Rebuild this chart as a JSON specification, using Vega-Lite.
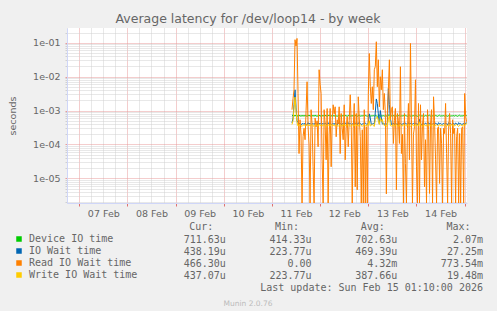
{
"$schema":"https://vega.github.io/schema/vega-lite/v6.json",
"background":"#F0F0F0",
"autosize":{"type":"none"},
"padding":{"left":67,"top":28,"right":430,"bottom":283},
"bounds":"flush",
"spacing":37,
"config":{"view":{"stroke":null},"axis":{"labelFont":"DejaVu Sans","titleFont":"DejaVu Sans","labelColor":"#666666","titleColor":"#666666","titleFontWeight":"normal"},"title":{"font":"DejaVu Sans","fontWeight":"normal","color":"#666666"}},
"vconcat":[
{
"width":400,"height":175,
"view":{"fill":"#FFFFFF","stroke":null},
"title":{"text":"Average latency for /dev/loop14 - by week","fontSize":12.5,"offset":2,"anchor":"middle","dx":-19},
"data":{"values":[
{"t":"2026-02-11T10:00","Device IO time":7.3e-4,"IO Wait time":4.3e-4,"Read IO Wait time":1.06e-3,"Write IO Wait time":3.9e-4},
{"t":"2026-02-11T10:30","Device IO time":7.1e-4,"IO Wait time":6e-4,"Read IO Wait time":2.23e-3,"Write IO Wait time":5e-4},
{"t":"2026-02-11T11:00","Device IO time":6.9e-4,"IO Wait time":1.5e-3,"Read IO Wait time":4.1e-3,"Write IO Wait time":1.2e-3},
{"t":"2026-02-11T11:30","Device IO time":7.2e-4,"IO Wait time":4.1e-3,"Read IO Wait time":0.123,"Write IO Wait time":2.5e-3},
{"t":"2026-02-11T12:00","Device IO time":7.0e-4,"IO Wait time":1.2e-3,"Read IO Wait time":0.08,"Write IO Wait time":1.0e-3},
{"t":"2026-02-11T12:30","Device IO time":6.8e-4,"IO Wait time":5e-4,"Read IO Wait time":0.134,"Write IO Wait time":4.5e-4},
{"t":"2026-02-11T13:00","Device IO time":7.1e-4,"IO Wait time":4.4e-4,"Read IO Wait time":3.19e-3,"Write IO Wait time":3.5e-4},
{"t":"2026-02-11T13:30","Device IO time":7.3e-4,"IO Wait time":4.0e-4,"Read IO Wait time":5.4e-5,"Write IO Wait time":3.7e-4},
{"t":"2026-02-11T14:00","Device IO time":6.9e-4,"IO Wait time":4.2e-4,"Read IO Wait time":5.36e-4,"Write IO Wait time":3.9e-4},
{"t":"2026-02-11T14:30","Device IO time":7.0e-4,"IO Wait time":3.9e-4,"Read IO Wait time":2.0e-4,"Write IO Wait time":3.6e-4},
{"t":"2026-02-11T15:00","Device IO time":7.0e-4,"IO Wait time":4.0e-4,"Read IO Wait time":0,"Write IO Wait time":3.4e-4},
{"t":"2026-02-11T15:30","Device IO time":7.1e-4,"IO Wait time":4.2e-4,"Read IO Wait time":1.69e-4,"Write IO Wait time":3.7e-4},
{"t":"2026-02-11T16:00","Device IO time":6.9e-4,"IO Wait time":3.9e-4,"Read IO Wait time":3.0e-4,"Write IO Wait time":3.8e-4},
{"t":"2026-02-11T16:30","Device IO time":7.2e-4,"IO Wait time":4.3e-4,"Read IO Wait time":1.38e-4,"Write IO Wait time":3.6e-4},
{"t":"2026-02-11T17:00","Device IO time":7.0e-4,"IO Wait time":4.1e-4,"Read IO Wait time":1.0e-3,"Write IO Wait time":3.5e-4},
{"t":"2026-02-11T17:30","Device IO time":6.8e-4,"IO Wait time":3.8e-4,"Read IO Wait time":7.08e-3,"Write IO Wait time":3.9e-4},
{"t":"2026-02-11T18:00","Device IO time":7.1e-4,"IO Wait time":4.4e-4,"Read IO Wait time":3.33e-4,"Write IO Wait time":3.6e-4},
{"t":"2026-02-11T18:30","Device IO time":7.3e-4,"IO Wait time":4.0e-4,"Read IO Wait time":1.0e-4,"Write IO Wait time":3.8e-4},
{"t":"2026-02-11T19:00","Device IO time":6.9e-4,"IO Wait time":4.2e-4,"Read IO Wait time":0,"Write IO Wait time":3.5e-4},
{"t":"2026-02-11T19:30","Device IO time":7.0e-4,"IO Wait time":3.9e-4,"Read IO Wait time":1.06e-3,"Write IO Wait time":3.7e-4},
{"t":"2026-02-11T20:00","Device IO time":7.0e-4,"IO Wait time":4.0e-4,"Read IO Wait time":4.0e-4,"Write IO Wait time":3.9e-4},
{"t":"2026-02-11T20:30","Device IO time":7.1e-4,"IO Wait time":4.2e-4,"Read IO Wait time":2.2e-5,"Write IO Wait time":3.6e-4},
{"t":"2026-02-11T21:00","Device IO time":6.9e-4,"IO Wait time":3.9e-4,"Read IO Wait time":0,"Write IO Wait time":3.4e-4},
{"t":"2026-02-11T21:30","Device IO time":7.2e-4,"IO Wait time":4.3e-4,"Read IO Wait time":6.0e-4,"Write IO Wait time":3.7e-4},
{"t":"2026-02-11T22:00","Device IO time":7.0e-4,"IO Wait time":4.1e-4,"Read IO Wait time":3.33e-4,"Write IO Wait time":3.8e-4},
{"t":"2026-02-11T22:30","Device IO time":6.8e-4,"IO Wait time":3.8e-4,"Read IO Wait time":5.0e-4,"Write IO Wait time":3.6e-4},
{"t":"2026-02-11T23:00","Device IO time":7.1e-4,"IO Wait time":4.4e-4,"Read IO Wait time":8.55e-5,"Write IO Wait time":3.5e-4},
{"t":"2026-02-11T23:30","Device IO time":7.3e-4,"IO Wait time":4.0e-4,"Read IO Wait time":1.6e-2,"Write IO Wait time":3.9e-4},
{"t":"2026-02-12T00:00","Device IO time":6.9e-4,"IO Wait time":4.2e-4,"Read IO Wait time":6.0e-3,"Write IO Wait time":3.6e-4},
{"t":"2026-02-12T00:30","Device IO time":7.0e-4,"IO Wait time":3.9e-4,"Read IO Wait time":3.19e-3,"Write IO Wait time":3.8e-4},
{"t":"2026-02-12T01:00","Device IO time":7.0e-4,"IO Wait time":4.0e-4,"Read IO Wait time":3.54e-5,"Write IO Wait time":3.5e-4},
{"t":"2026-02-12T01:30","Device IO time":7.1e-4,"IO Wait time":4.2e-4,"Read IO Wait time":0,"Write IO Wait time":3.7e-4},
{"t":"2026-02-12T02:00","Device IO time":6.9e-4,"IO Wait time":3.9e-4,"Read IO Wait time":1.06e-3,"Write IO Wait time":3.9e-4},
{"t":"2026-02-12T02:30","Device IO time":7.2e-4,"IO Wait time":4.3e-4,"Read IO Wait time":4.0e-4,"Write IO Wait time":3.6e-4},
{"t":"2026-02-12T03:00","Device IO time":7.0e-4,"IO Wait time":4.1e-4,"Read IO Wait time":3.54e-5,"Write IO Wait time":3.4e-4},
{"t":"2026-02-12T03:30","Device IO time":6.8e-4,"IO Wait time":3.8e-4,"Read IO Wait time":1.15e-3,"Write IO Wait time":3.7e-4},
{"t":"2026-02-12T04:00","Device IO time":7.1e-4,"IO Wait time":4.4e-4,"Read IO Wait time":0,"Write IO Wait time":3.8e-4},
{"t":"2026-02-12T04:30","Device IO time":7.3e-4,"IO Wait time":4.0e-4,"Read IO Wait time":2.0e-4,"Write IO Wait time":3.6e-4},
{"t":"2026-02-12T05:00","Device IO time":6.9e-4,"IO Wait time":4.2e-4,"Read IO Wait time":1.15e-3,"Write IO Wait time":3.5e-4},
{"t":"2026-02-12T05:30","Device IO time":7.0e-4,"IO Wait time":3.9e-4,"Read IO Wait time":2.2e-5,"Write IO Wait time":3.9e-4},
{"t":"2026-02-12T06:00","Device IO time":7.0e-4,"IO Wait time":4.0e-4,"Read IO Wait time":5.0e-4,"Write IO Wait time":3.6e-4},
{"t":"2026-02-12T06:30","Device IO time":7.1e-4,"IO Wait time":4.2e-4,"Read IO Wait time":1.48e-3,"Write IO Wait time":3.8e-4},
{"t":"2026-02-12T07:00","Device IO time":6.9e-4,"IO Wait time":3.9e-4,"Read IO Wait time":8.0e-4,"Write IO Wait time":3.5e-4},
{"t":"2026-02-12T07:30","Device IO time":7.2e-4,"IO Wait time":4.3e-4,"Read IO Wait time":1.29e-3,"Write IO Wait time":3.7e-4},
{"t":"2026-02-12T08:00","Device IO time":7.0e-4,"IO Wait time":4.1e-4,"Read IO Wait time":1.69e-4,"Write IO Wait time":3.9e-4},
{"t":"2026-02-12T08:30","Device IO time":6.8e-4,"IO Wait time":3.8e-4,"Read IO Wait time":5.36e-4,"Write IO Wait time":3.6e-4},
{"t":"2026-02-12T09:00","Device IO time":7.1e-4,"IO Wait time":4.4e-4,"Read IO Wait time":4.0e-4,"Write IO Wait time":3.4e-4},
{"t":"2026-02-12T09:30","Device IO time":7.3e-4,"IO Wait time":4.0e-4,"Read IO Wait time":1.29e-3,"Write IO Wait time":3.7e-4},
{"t":"2026-02-12T10:00","Device IO time":6.9e-4,"IO Wait time":4.2e-4,"Read IO Wait time":5.4e-5,"Write IO Wait time":3.8e-4},
{"t":"2026-02-12T10:30","Device IO time":7.0e-4,"IO Wait time":3.9e-4,"Read IO Wait time":8.2e-4,"Write IO Wait time":3.6e-4},
{"t":"2026-02-12T11:00","Device IO time":7.0e-4,"IO Wait time":4.0e-4,"Read IO Wait time":3.0e-4,"Write IO Wait time":3.5e-4},
{"t":"2026-02-12T11:30","Device IO time":7.1e-4,"IO Wait time":4.2e-4,"Read IO Wait time":1.38e-4,"Write IO Wait time":3.9e-4},
{"t":"2026-02-12T12:00","Device IO time":6.9e-4,"IO Wait time":3.9e-4,"Read IO Wait time":1.48e-3,"Write IO Wait time":3.6e-4},
{"t":"2026-02-12T12:30","Device IO time":7.2e-4,"IO Wait time":4.3e-4,"Read IO Wait time":3.54e-5,"Write IO Wait time":3.8e-4},
{"t":"2026-02-12T13:00","Device IO time":7.0e-4,"IO Wait time":4.1e-4,"Read IO Wait time":3.0e-4,"Write IO Wait time":3.5e-4},
{"t":"2026-02-12T13:30","Device IO time":6.8e-4,"IO Wait time":3.8e-4,"Read IO Wait time":6.56e-4,"Write IO Wait time":3.7e-4},
{"t":"2026-02-12T14:00","Device IO time":7.1e-4,"IO Wait time":4.4e-4,"Read IO Wait time":8.55e-5,"Write IO Wait time":3.9e-4},
{"t":"2026-02-12T14:30","Device IO time":7.3e-4,"IO Wait time":4.0e-4,"Read IO Wait time":5.0e-4,"Write IO Wait time":3.6e-4},
{"t":"2026-02-12T15:00","Device IO time":6.9e-4,"IO Wait time":4.2e-4,"Read IO Wait time":2.92e-3,"Write IO Wait time":3.4e-4},
{"t":"2026-02-12T15:30","Device IO time":7.0e-4,"IO Wait time":3.9e-4,"Read IO Wait time":4.16e-4,"Write IO Wait time":3.7e-4},
{"t":"2026-02-12T16:00","Device IO time":7.0e-4,"IO Wait time":4.0e-4,"Read IO Wait time":0,"Write IO Wait time":3.8e-4},
{"t":"2026-02-12T16:30","Device IO time":7.1e-4,"IO Wait time":4.2e-4,"Read IO Wait time":3.0e-4,"Write IO Wait time":3.6e-4},
{"t":"2026-02-12T17:00","Device IO time":6.9e-4,"IO Wait time":3.9e-4,"Read IO Wait time":1.62e-3,"Write IO Wait time":3.5e-4},
{"t":"2026-02-12T17:30","Device IO time":7.2e-4,"IO Wait time":4.3e-4,"Read IO Wait time":5.65e-6,"Write IO Wait time":3.9e-4},
{"t":"2026-02-12T18:00","Device IO time":7.0e-4,"IO Wait time":4.1e-4,"Read IO Wait time":8.2e-4,"Write IO Wait time":3.6e-4},
{"t":"2026-02-12T18:30","Device IO time":6.8e-4,"IO Wait time":3.8e-4,"Read IO Wait time":4.61e-6,"Write IO Wait time":3.8e-4},
{"t":"2026-02-12T19:00","Device IO time":7.1e-4,"IO Wait time":4.4e-4,"Read IO Wait time":2.55e-3,"Write IO Wait time":3.5e-4},
{"t":"2026-02-12T19:30","Device IO time":7.3e-4,"IO Wait time":4.0e-4,"Read IO Wait time":6.0e-4,"Write IO Wait time":3.7e-4},
{"t":"2026-02-12T20:00","Device IO time":6.9e-4,"IO Wait time":4.2e-4,"Read IO Wait time":1.69e-4,"Write IO Wait time":3.9e-4},
{"t":"2026-02-12T20:30","Device IO time":7.0e-4,"IO Wait time":3.9e-4,"Read IO Wait time":0,"Write IO Wait time":3.6e-4},
{"t":"2026-02-12T21:00","Device IO time":7.0e-4,"IO Wait time":4.0e-4,"Read IO Wait time":2.72e-4,"Write IO Wait time":3.4e-4},
{"t":"2026-02-12T21:30","Device IO time":7.1e-4,"IO Wait time":4.2e-4,"Read IO Wait time":0,"Write IO Wait time":3.7e-4},
{"t":"2026-02-12T22:00","Device IO time":6.9e-4,"IO Wait time":3.9e-4,"Read IO Wait time":1.06e-3,"Write IO Wait time":3.8e-4},
{"t":"2026-02-12T22:30","Device IO time":7.2e-4,"IO Wait time":4.3e-4,"Read IO Wait time":0,"Write IO Wait time":3.6e-4},
{"t":"2026-02-12T23:00","Device IO time":7.0e-4,"IO Wait time":4.1e-4,"Read IO Wait time":3.33e-4,"Write IO Wait time":3.5e-4},
{"t":"2026-02-12T23:30","Device IO time":6.8e-4,"IO Wait time":3.8e-4,"Read IO Wait time":0,"Write IO Wait time":3.9e-4},
{"t":"2026-02-13T00:00","Device IO time":7.1e-4,"IO Wait time":4.4e-4,"Read IO Wait time":3.0e-3,"Write IO Wait time":3.6e-4},
{"t":"2026-02-13T00:30","Device IO time":7.3e-4,"IO Wait time":8e-4,"Read IO Wait time":0.0483,"Write IO Wait time":5e-4},
{"t":"2026-02-13T01:00","Device IO time":6.9e-4,"IO Wait time":6e-4,"Read IO Wait time":5.04e-3,"Write IO Wait time":3.5e-4},
{"t":"2026-02-13T01:30","Device IO time":7.0e-4,"IO Wait time":3.9e-4,"Read IO Wait time":1.62e-3,"Write IO Wait time":3.7e-4},
{"t":"2026-02-13T02:00","Device IO time":7.0e-4,"IO Wait time":4.0e-4,"Read IO Wait time":5.04e-3,"Write IO Wait time":3.9e-4},
{"t":"2026-02-13T02:30","Device IO time":7.1e-4,"IO Wait time":4.2e-4,"Read IO Wait time":1.06e-3,"Write IO Wait time":3.6e-4},
{"t":"2026-02-13T03:00","Device IO time":6.9e-4,"IO Wait time":3.9e-4,"Read IO Wait time":0.016,"Write IO Wait time":3.4e-4},
{"t":"2026-02-13T03:30","Device IO time":7.2e-4,"IO Wait time":9e-4,"Read IO Wait time":0.02,"Write IO Wait time":5.5e-4},
{"t":"2026-02-13T04:00","Device IO time":7.0e-4,"IO Wait time":2.2e-3,"Read IO Wait time":0.107,"Write IO Wait time":6e-4},
{"t":"2026-02-13T04:30","Device IO time":6.8e-4,"IO Wait time":1.6e-3,"Read IO Wait time":5.04e-3,"Write IO Wait time":6.5e-4},
{"t":"2026-02-13T05:00","Device IO time":7.1e-4,"IO Wait time":8e-4,"Read IO Wait time":0.0315,"Write IO Wait time":5e-4},
{"t":"2026-02-13T05:30","Device IO time":7.3e-4,"IO Wait time":4.0e-4,"Read IO Wait time":1.29e-3,"Write IO Wait time":3.9e-4},
{"t":"2026-02-13T06:00","Device IO time":6.9e-4,"IO Wait time":1.0e-3,"Read IO Wait time":9.93e-3,"Write IO Wait time":6e-4},
{"t":"2026-02-13T06:30","Device IO time":7.0e-4,"IO Wait time":6e-4,"Read IO Wait time":4.1e-3,"Write IO Wait time":4.8e-4},
{"t":"2026-02-13T07:00","Device IO time":7.0e-4,"IO Wait time":4.0e-4,"Read IO Wait time":0.016,"Write IO Wait time":5.5e-4},
{"t":"2026-02-13T07:30","Device IO time":7.1e-4,"IO Wait time":4.2e-4,"Read IO Wait time":1.06e-3,"Write IO Wait time":3.9e-4},
{"t":"2026-02-13T08:00","Device IO time":6.9e-4,"IO Wait time":3.9e-4,"Read IO Wait time":3.19e-3,"Write IO Wait time":3.6e-4},
{"t":"2026-02-13T08:30","Device IO time":7.2e-4,"IO Wait time":4.3e-4,"Read IO Wait time":8.2e-4,"Write IO Wait time":3.8e-4},
{"t":"2026-02-13T09:00","Device IO time":7.0e-4,"IO Wait time":4.1e-4,"Read IO Wait time":3.5e-6,"Write IO Wait time":3.4e-4},
{"t":"2026-02-13T09:30","Device IO time":6.8e-4,"IO Wait time":3.8e-4,"Read IO Wait time":8.0e-4,"Write IO Wait time":3.7e-4},
{"t":"2026-02-13T10:00","Device IO time":7.4e-4,"IO Wait time":4.5e-3,"Read IO Wait time":4.1e-3,"Write IO Wait time":5.4e-4},
{"t":"2026-02-13T10:30","Device IO time":7.3e-4,"IO Wait time":1.5e-3,"Read IO Wait time":0.0315,"Write IO Wait time":7e-4},
{"t":"2026-02-13T11:00","Device IO time":6.9e-4,"IO Wait time":6e-4,"Read IO Wait time":5.36e-4,"Write IO Wait time":3.6e-4},
{"t":"2026-02-13T11:30","Device IO time":7.0e-4,"IO Wait time":3.9e-4,"Read IO Wait time":1.06e-3,"Write IO Wait time":3.5e-4},
{"t":"2026-02-13T12:00","Device IO time":7.0e-4,"IO Wait time":4.0e-4,"Read IO Wait time":1.29e-3,"Write IO Wait time":3.6e-4},
{"t":"2026-02-13T12:30","Device IO time":7.1e-4,"IO Wait time":4.2e-4,"Read IO Wait time":1.07e-4,"Write IO Wait time":3.8e-4},
{"t":"2026-02-13T13:00","Device IO time":6.9e-4,"IO Wait time":3.9e-4,"Read IO Wait time":5.0e-4,"Write IO Wait time":3.5e-4},
{"t":"2026-02-13T13:30","Device IO time":7.2e-4,"IO Wait time":4.3e-4,"Read IO Wait time":1.15e-3,"Write IO Wait time":3.7e-4},
{"t":"2026-02-13T14:00","Device IO time":7.0e-4,"IO Wait time":4.1e-4,"Read IO Wait time":4.61e-6,"Write IO Wait time":3.9e-4},
{"t":"2026-02-13T14:30","Device IO time":6.8e-4,"IO Wait time":3.8e-4,"Read IO Wait time":8.2e-4,"Write IO Wait time":3.6e-4},
{"t":"2026-02-13T15:00","Device IO time":7.1e-4,"IO Wait time":4.4e-4,"Read IO Wait time":5.0e-4,"Write IO Wait time":3.4e-4},
{"t":"2026-02-13T15:30","Device IO time":7.3e-4,"IO Wait time":4.0e-4,"Read IO Wait time":1.07e-4,"Write IO Wait time":3.7e-4},
{"t":"2026-02-13T16:00","Device IO time":6.9e-4,"IO Wait time":4.2e-4,"Read IO Wait time":0.0196,"Write IO Wait time":3.8e-4},
{"t":"2026-02-13T16:30","Device IO time":7.0e-4,"IO Wait time":3.9e-4,"Read IO Wait time":5.4e-5,"Write IO Wait time":3.6e-4},
{"t":"2026-02-13T17:00","Device IO time":7.0e-4,"IO Wait time":4.0e-4,"Read IO Wait time":2.0e-4,"Write IO Wait time":3.5e-4},
{"t":"2026-02-13T17:30","Device IO time":7.1e-4,"IO Wait time":4.2e-4,"Read IO Wait time":0,"Write IO Wait time":3.9e-4},
{"t":"2026-02-13T18:00","Device IO time":6.9e-4,"IO Wait time":3.9e-4,"Read IO Wait time":8.2e-4,"Write IO Wait time":3.6e-4},
{"t":"2026-02-13T18:30","Device IO time":7.2e-4,"IO Wait time":4.3e-4,"Read IO Wait time":2.75e-5,"Write IO Wait time":3.8e-4},
{"t":"2026-02-13T19:00","Device IO time":7.0e-4,"IO Wait time":4.1e-4,"Read IO Wait time":0,"Write IO Wait time":3.5e-4},
{"t":"2026-02-13T19:30","Device IO time":6.8e-4,"IO Wait time":3.8e-4,"Read IO Wait time":3.0e-4,"Write IO Wait time":3.7e-4},
{"t":"2026-02-13T20:00","Device IO time":7.1e-4,"IO Wait time":4.4e-4,"Read IO Wait time":1.62e-3,"Write IO Wait time":3.9e-4},
{"t":"2026-02-13T20:30","Device IO time":7.3e-4,"IO Wait time":4.0e-4,"Read IO Wait time":3.54e-5,"Write IO Wait time":3.6e-4},
{"t":"2026-02-13T21:00","Device IO time":6.9e-4,"IO Wait time":4.2e-4,"Read IO Wait time":0.0953,"Write IO Wait time":3.4e-4},
{"t":"2026-02-13T21:30","Device IO time":7.0e-4,"IO Wait time":3.9e-4,"Read IO Wait time":5.36e-4,"Write IO Wait time":3.7e-4},
{"t":"2026-02-13T22:00","Device IO time":7.0e-4,"IO Wait time":4.0e-4,"Read IO Wait time":0,"Write IO Wait time":3.8e-4},
{"t":"2026-02-13T22:30","Device IO time":7.1e-4,"IO Wait time":4.2e-4,"Read IO Wait time":2.0e-4,"Write IO Wait time":3.6e-4},
{"t":"2026-02-13T23:00","Device IO time":6.9e-4,"IO Wait time":3.9e-4,"Read IO Wait time":3.33e-4,"Write IO Wait time":3.5e-4},
{"t":"2026-02-13T23:30","Device IO time":7.2e-4,"IO Wait time":4.3e-4,"Read IO Wait time":8.1e-3,"Write IO Wait time":3.9e-4},
{"t":"2026-02-14T00:00","Device IO time":7.0e-4,"IO Wait time":4.1e-4,"Read IO Wait time":2.2e-5,"Write IO Wait time":3.6e-4},
{"t":"2026-02-14T00:30","Device IO time":6.8e-4,"IO Wait time":3.8e-4,"Read IO Wait time":0,"Write IO Wait time":3.8e-4},
{"t":"2026-02-14T01:00","Device IO time":7.1e-4,"IO Wait time":4.4e-4,"Read IO Wait time":1.62e-3,"Write IO Wait time":3.5e-4},
{"t":"2026-02-14T01:30","Device IO time":7.3e-4,"IO Wait time":5.5e-4,"Read IO Wait time":0,"Write IO Wait time":4.5e-4},
{"t":"2026-02-14T02:00","Device IO time":6.9e-4,"IO Wait time":4.2e-4,"Read IO Wait time":1.48e-3,"Write IO Wait time":3.9e-4},
{"t":"2026-02-14T02:30","Device IO time":7.0e-4,"IO Wait time":3.9e-4,"Read IO Wait time":3.54e-5,"Write IO Wait time":3.6e-4},
{"t":"2026-02-14T03:00","Device IO time":7.0e-4,"IO Wait time":4.0e-4,"Read IO Wait time":4.0e-4,"Write IO Wait time":3.4e-4},
{"t":"2026-02-14T03:30","Device IO time":7.1e-4,"IO Wait time":4.2e-4,"Read IO Wait time":8.2e-4,"Write IO Wait time":3.7e-4},
{"t":"2026-02-14T04:00","Device IO time":6.9e-4,"IO Wait time":3.9e-4,"Read IO Wait time":5.65e-6,"Write IO Wait time":3.8e-4},
{"t":"2026-02-14T04:30","Device IO time":7.2e-4,"IO Wait time":4.3e-4,"Read IO Wait time":1.38e-4,"Write IO Wait time":3.6e-4},
{"t":"2026-02-14T05:00","Device IO time":7.0e-4,"IO Wait time":4.1e-4,"Read IO Wait time":0,"Write IO Wait time":3.5e-4},
{"t":"2026-02-14T05:30","Device IO time":6.8e-4,"IO Wait time":3.8e-4,"Read IO Wait time":1.06e-3,"Write IO Wait time":3.9e-4},
{"t":"2026-02-14T06:00","Device IO time":7.1e-4,"IO Wait time":4.4e-4,"Read IO Wait time":2.72e-4,"Write IO Wait time":3.6e-4},
{"t":"2026-02-14T06:30","Device IO time":7.3e-4,"IO Wait time":4.0e-4,"Read IO Wait time":3.6e-6,"Write IO Wait time":3.8e-4},
{"t":"2026-02-14T07:00","Device IO time":6.9e-4,"IO Wait time":4.2e-4,"Read IO Wait time":4.0e-4,"Write IO Wait time":3.5e-4},
{"t":"2026-02-14T07:30","Device IO time":7.0e-4,"IO Wait time":3.9e-4,"Read IO Wait time":1.06e-3,"Write IO Wait time":3.7e-4},
{"t":"2026-02-14T08:00","Device IO time":7.0e-4,"IO Wait time":4.0e-4,"Read IO Wait time":0,"Write IO Wait time":3.9e-4},
{"t":"2026-02-14T08:30","Device IO time":7.1e-4,"IO Wait time":4.2e-4,"Read IO Wait time":2.55e-3,"Write IO Wait time":3.6e-4},
{"t":"2026-02-14T09:00","Device IO time":6.9e-4,"IO Wait time":3.9e-4,"Read IO Wait time":5.0e-4,"Write IO Wait time":3.4e-4},
{"t":"2026-02-14T09:30","Device IO time":7.2e-4,"IO Wait time":4.3e-4,"Read IO Wait time":3.54e-5,"Write IO Wait time":3.7e-4},
{"t":"2026-02-14T10:00","Device IO time":7.0e-4,"IO Wait time":4.1e-4,"Read IO Wait time":0,"Write IO Wait time":3.8e-4},
{"t":"2026-02-14T10:30","Device IO time":6.8e-4,"IO Wait time":3.8e-4,"Read IO Wait time":3.0e-4,"Write IO Wait time":3.6e-4},
{"t":"2026-02-14T11:00","Device IO time":7.1e-4,"IO Wait time":4.4e-4,"Read IO Wait time":3.33e-4,"Write IO Wait time":3.5e-4},
{"t":"2026-02-14T11:30","Device IO time":7.3e-4,"IO Wait time":4.0e-4,"Read IO Wait time":7.1e-6,"Write IO Wait time":3.9e-4},
{"t":"2026-02-14T12:00","Device IO time":6.9e-4,"IO Wait time":4.2e-4,"Read IO Wait time":3.0e-4,"Write IO Wait time":3.6e-4},
{"t":"2026-02-14T12:30","Device IO time":7.0e-4,"IO Wait time":3.9e-4,"Read IO Wait time":1.07e-4,"Write IO Wait time":3.8e-4},
{"t":"2026-02-14T13:00","Device IO time":7.0e-4,"IO Wait time":4.0e-4,"Read IO Wait time":0,"Write IO Wait time":3.5e-4},
{"t":"2026-02-14T13:30","Device IO time":7.1e-4,"IO Wait time":4.2e-4,"Read IO Wait time":3.0e-4,"Write IO Wait time":3.7e-4},
{"t":"2026-02-14T14:00","Device IO time":6.9e-4,"IO Wait time":3.9e-4,"Read IO Wait time":2.1e-4,"Write IO Wait time":3.9e-4},
{"t":"2026-02-14T14:30","Device IO time":7.2e-4,"IO Wait time":4.3e-4,"Read IO Wait time":1.62e-3,"Write IO Wait time":3.6e-4},
{"t":"2026-02-14T15:00","Device IO time":7.0e-4,"IO Wait time":4.1e-4,"Read IO Wait time":5.4e-5,"Write IO Wait time":3.4e-4},
{"t":"2026-02-14T15:30","Device IO time":6.8e-4,"IO Wait time":3.8e-4,"Read IO Wait time":0,"Write IO Wait time":3.7e-4},
{"t":"2026-02-14T16:00","Device IO time":7.1e-4,"IO Wait time":4.4e-4,"Read IO Wait time":3.0e-4,"Write IO Wait time":3.8e-4},
{"t":"2026-02-14T16:30","Device IO time":7.3e-4,"IO Wait time":4.0e-4,"Read IO Wait time":8.2e-4,"Write IO Wait time":3.6e-4},
{"t":"2026-02-14T17:00","Device IO time":6.9e-4,"IO Wait time":4.2e-4,"Read IO Wait time":2.1e-4,"Write IO Wait time":3.5e-4},
{"t":"2026-02-14T17:30","Device IO time":7.0e-4,"IO Wait time":3.9e-4,"Read IO Wait time":0,"Write IO Wait time":3.9e-4},
{"t":"2026-02-14T18:00","Device IO time":7.0e-4,"IO Wait time":4.0e-4,"Read IO Wait time":5.36e-4,"Write IO Wait time":3.6e-4},
{"t":"2026-02-14T18:30","Device IO time":7.1e-4,"IO Wait time":4.2e-4,"Read IO Wait time":2.1e-4,"Write IO Wait time":3.8e-4},
{"t":"2026-02-14T19:00","Device IO time":6.9e-4,"IO Wait time":3.9e-4,"Read IO Wait time":3.0e-4,"Write IO Wait time":3.5e-4},
{"t":"2026-02-14T19:30","Device IO time":7.2e-4,"IO Wait time":4.3e-4,"Read IO Wait time":0,"Write IO Wait time":3.7e-4},
{"t":"2026-02-14T20:00","Device IO time":7.0e-4,"IO Wait time":4.1e-4,"Read IO Wait time":1.69e-4,"Write IO Wait time":3.9e-4},
{"t":"2026-02-14T20:30","Device IO time":6.8e-4,"IO Wait time":3.8e-4,"Read IO Wait time":3.0e-4,"Write IO Wait time":3.6e-4},
{"t":"2026-02-14T21:00","Device IO time":7.1e-4,"IO Wait time":4.4e-4,"Read IO Wait time":0,"Write IO Wait time":3.4e-4},
{"t":"2026-02-14T21:30","Device IO time":7.3e-4,"IO Wait time":4.0e-4,"Read IO Wait time":2.1e-4,"Write IO Wait time":3.7e-4},
{"t":"2026-02-14T22:00","Device IO time":6.9e-4,"IO Wait time":4.2e-4,"Read IO Wait time":0,"Write IO Wait time":3.8e-4},
{"t":"2026-02-14T22:30","Device IO time":7.0e-4,"IO Wait time":3.9e-4,"Read IO Wait time":3.0e-4,"Write IO Wait time":3.6e-4},
{"t":"2026-02-14T23:00","Device IO time":7.0e-4,"IO Wait time":4.0e-4,"Read IO Wait time":3.33e-4,"Write IO Wait time":3.5e-4},
{"t":"2026-02-14T23:30","Device IO time":7.1e-4,"IO Wait time":4.2e-4,"Read IO Wait time":0,"Write IO Wait time":3.9e-4},
{"t":"2026-02-15T00:00","Device IO time":6.9e-4,"IO Wait time":3.9e-4,"Read IO Wait time":3.19e-3,"Write IO Wait time":3.6e-4},
{"t":"2026-02-15T00:30","Device IO time":7.2e-4,"IO Wait time":4.3e-4,"Read IO Wait time":6.56e-4,"Write IO Wait time":3.8e-4},
{"t":"2026-02-15T01:00","Device IO time":7.12e-4,"IO Wait time":4.38e-4,"Read IO Wait time":4.66e-4,"Write IO Wait time":4.37e-4}
]},
"transform":[{"fold":["Device IO time","IO Wait time","Read IO Wait time","Write IO Wait time"],"as":["name","value"]}],
"mark":{"type":"line","strokeWidth":1,"clip":true},
"encoding":{
"x":{"field":"t","type":"temporal","scale":{"domain":[{"year":2026,"month":2,"date":6,"hours":17,"minutes":55},{"year":2026,"month":2,"date":15,"hours":1,"minutes":10}]},
"axis":{"title":null,"values":[
{"year":2026,"month":2,"date":6,"hours":18},{"year":2026,"month":2,"date":7,"hours":0},{"year":2026,"month":2,"date":7,"hours":6},{"year":2026,"month":2,"date":7,"hours":12},{"year":2026,"month":2,"date":7,"hours":18},
{"year":2026,"month":2,"date":8,"hours":0},{"year":2026,"month":2,"date":8,"hours":6},{"year":2026,"month":2,"date":8,"hours":12},{"year":2026,"month":2,"date":8,"hours":18},
{"year":2026,"month":2,"date":9,"hours":0},{"year":2026,"month":2,"date":9,"hours":6},{"year":2026,"month":2,"date":9,"hours":12},{"year":2026,"month":2,"date":9,"hours":18},
{"year":2026,"month":2,"date":10,"hours":0},{"year":2026,"month":2,"date":10,"hours":6},{"year":2026,"month":2,"date":10,"hours":12},{"year":2026,"month":2,"date":10,"hours":18},
{"year":2026,"month":2,"date":11,"hours":0},{"year":2026,"month":2,"date":11,"hours":6},{"year":2026,"month":2,"date":11,"hours":12},{"year":2026,"month":2,"date":11,"hours":18},
{"year":2026,"month":2,"date":12,"hours":0},{"year":2026,"month":2,"date":12,"hours":6},{"year":2026,"month":2,"date":12,"hours":12},{"year":2026,"month":2,"date":12,"hours":18},
{"year":2026,"month":2,"date":13,"hours":0},{"year":2026,"month":2,"date":13,"hours":6},{"year":2026,"month":2,"date":13,"hours":12},{"year":2026,"month":2,"date":13,"hours":18},
{"year":2026,"month":2,"date":14,"hours":0},{"year":2026,"month":2,"date":14,"hours":6},{"year":2026,"month":2,"date":14,"hours":12},{"year":2026,"month":2,"date":14,"hours":18},
{"year":2026,"month":2,"date":15,"hours":0}],
"labelExpr":"hours(datum.value) == 12 ? timeFormat(datum.value, '%d %b') : ''","labelOverlap":false,"labelFlush":false,"labelFontSize":9.5,"labelPadding":2,"tickSize":3,
"tickColor":{"condition":{"test":"hours(datum.value) == 0","value":"#E07070"},"value":"#F0F0F0"},
"grid":true,"gridColor":{"condition":{"test":"hours(datum.value) == 0","value":"#E89A9A"},"value":"#D0D0D0"},"gridDash":[1,1],"domainColor":"#CFD6F8"}},
"y":{"field":"value","type":"quantitative","scale":{"type":"log","domain":[1.88e-6,0.272],"clamp":true,"nice":false},
"axis":{"title":"seconds","titleFontSize":9.5,"titlePadding":15,"values":[2e-6,3e-6,4e-6,5e-6,6e-6,7e-6,8e-6,9e-6,1e-5,2e-5,3e-5,4e-5,5e-5,6e-5,7e-5,8e-5,9e-5,1e-4,2e-4,3e-4,4e-4,5e-4,6e-4,7e-4,8e-4,9e-4,1e-3,2e-3,3e-3,4e-3,5e-3,6e-3,7e-3,8e-3,9e-3,1e-2,2e-2,3e-2,4e-2,5e-2,6e-2,7e-2,8e-2,9e-2,1e-1,2e-1],"labelExpr":"abs(log(datum.value)/LN10 - round(log(datum.value)/LN10)) < 0.01 ? '1e-0' + round(-log(datum.value)/LN10) : ''","labelOverlap":false,"labelFlush":false,"labelFontSize":9.5,"labelPadding":5,"tickSize":2,
"tickColor":{"condition":{"test":"abs(log(datum.value)/LN10 - round(log(datum.value)/LN10)) < 0.01","value":"#E89A9A"},"value":"#D0D0D0"},
"grid":true,"gridColor":{"condition":{"test":"abs(log(datum.value)/LN10 - round(log(datum.value)/LN10)) < 0.01","value":"#E89A9A"},"value":"#D0D0D0"},"gridDash":[1,1],"domainColor":"#CFD6F8"}},
"color":{"field":"name","type":"nominal","scale":{"domain":["Device IO time","IO Wait time","Read IO Wait time","Write IO Wait time"],"range":["#00CC00","#0066B3","#FF8000","#FFCC00"]},
"legend":{"orient":"none","legendX":-53,"legendY":206,"title":null,"symbolType":"square","symbolSize":4,"symbolStrokeWidth":3.5,"clipHeight":10,"labelFont":"DejaVu Sans Mono","labelFontSize":10,"labelColor":"#666666","labelOffset":5,"rowPadding":2,"padding":0}}
}
},
{
"width":416,"height":48,
"view":{"stroke":null},
"title":{"text":"Munin 2.0.76","orient":"bottom","anchor":"middle","offset":7,"fontSize":7.5,"color":"#BBBBBB","dx":-27},
"data":{"values":[
{"series":"Device IO time","Cur":"711.63u","Min":"414.33u","Avg":"702.63u","Max":"2.07m"},
{"series":"IO Wait time","Cur":"438.19u","Min":"223.77u","Avg":"469.39u","Max":"27.25m"},
{"series":"Read IO Wait time","Cur":"466.30u","Min":"0.00","Avg":"4.32m","Max":"773.54m"},
{"series":"Write IO Wait time","Cur":"437.07u","Min":"223.77u","Avg":"387.66u","Max":"19.48m"},
{"series":"update","Max":"Last update: Sun Feb 15 01:10:00 2026"}]},
"transform":[{"fold":["Cur","Min","Avg","Max"],"as":["col","text"]},{"filter":"isValid(datum.text)"}],
"mark":{"type":"text","align":"right","baseline":"middle","font":"DejaVu Sans Mono","fontSize":10,"fill":"#666666"},
"encoding":{
"x":{"field":"col","type":"nominal","sort":["Cur","Min","Avg","Max"],"scale":{"type":"point","padding":0.927,"align":1},
"axis":{"orient":"top","title":null,"domain":false,"ticks":false,"labelAngle":0,"labelAlign":"right","labelOffset":-13,"labelPadding":9,"labelExpr":"datum.label + ':'","labelFont":"DejaVu Sans Mono","labelFontSize":10,"labelColor":"#666666","grid":false}},
"y":{"field":"series","type":"nominal","sort":null,"scale":{"type":"point","padding":0},"axis":null},
"text":{"field":"text"}
}
}
]
}
